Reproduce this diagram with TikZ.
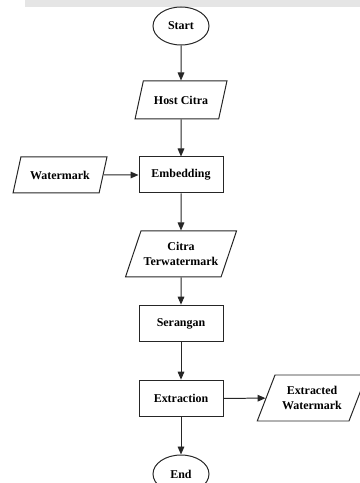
\documentclass[tikz,border=0pt]{standalone}
\usepackage{fontspec}
\setmainfont{Liberation Serif}
\usepackage{tikz}
\usetikzlibrary{arrows.meta,shapes}

\begin{document}
\begin{tikzpicture}[>={Triangle[length=2.4mm,width=2mm]},
    line width=0.85pt,
    every node/.style={font=\fontsize{10.2}{12.8}\selectfont\bfseries,align=center,draw=black!85,inner sep=1pt},
    terminal/.style={ellipse,minimum width=1.68cm,minimum height=1.14cm},
    process/.style={rectangle,minimum width=2.52cm,minimum height=1.1cm},
    data/.style={trapezium,trapezium left angle=60,trapezium right angle=120,
      trapezium stretches=true,minimum width=#1,minimum height=1.14cm},
    data/.default=2.76cm,
    flow/.style={->,draw=black!85}]
  \clip (0,0) rectangle (10.8,14.49);
  \fill[black!10] (0.75,14.28) rectangle (10.8,14.49);

  % main column
  \node[terminal] (start) at (5.43,13.71) {Start};
  \node[data] (host) at (5.43,11.49) {Host Citra};
  \node[process,minimum height=1.08cm] (embed) at (5.43,9.24) {Embedding};
  \node[data=3.36cm,minimum height=1.38cm] (marked) at (5.43,6.87) {Citra\\Terwatermark};
  \node[process] (attack) at (5.43,4.785) {Serangan};
  \node[process] (extract) at (5.43,2.535) {Extraction};
  \node[terminal] (end) at (5.43,0.27) {End};

  % side inputs and outputs
  \node[data=2.82cm,minimum height=1.08cm] (wm) at (1.80,9.24) {Watermark};
  \node[data=3.3cm,minimum height=1.38cm] (outwm) at (9.36,2.55) {Extracted\\Watermark};

  % arrows
  \draw[flow] (start) -- (host);
  \draw[flow] (host) -- (embed);
  \draw[flow] (wm) -- (embed);
  \draw[flow] (embed) -- (marked);
  \draw[flow] (marked) -- (attack);
  \draw[flow] (attack) -- (extract);
  \draw[flow] (extract) -- (outwm);
  \draw[flow] (extract) -- (end);
\end{tikzpicture}
\end{document}
